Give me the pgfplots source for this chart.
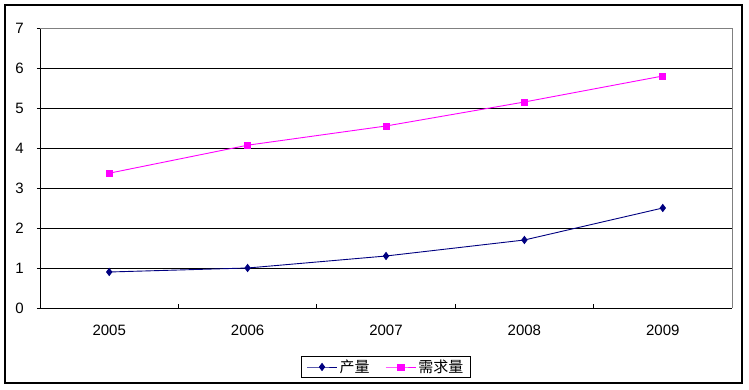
\documentclass[border=0pt]{standalone}
\usepackage{fontspec}
\setmainfont{Liberation Sans}
\newfontfamily\cjk{Noto Sans CJK SC}
\usepackage{pgfplots}
\pgfplotsset{compat=1.18}
\definecolor{navyc}{RGB}{0,0,128}
\definecolor{magc}{RGB}{255,0,255}
\begin{document}
\fontsize{15}{18}\selectfont
\begin{tikzpicture}
\useasboundingbox (-40pt,-82pt) rectangle (709pt,308pt);
\draw[black, line width=1.2pt] (-35pt,-75pt) rectangle (702pt,303pt);
\begin{axis}[
  at={(0pt,0pt)}, anchor=south west,
  scale only axis, width=692pt, height=280pt,
  xmin=-0.5, xmax=4.5, ymin=0, ymax=7,
  axis lines=left, axis line style={-, black, line width=0.9pt},
  xtick={0,1,2,3,4}, xticklabels={2005,2006,2007,2008,2009},
  major x tick style={draw=none},
  minor xtick={0.5,1.5,2.5,3.5}, xtick align=inside,
  minor tick length=4pt, minor x tick style={black, line width=0.9pt},
  ytick={0,1,...,7}, ytick align=outside, major tick length=3pt,
  major y tick style={black, line width=0.9pt},
  ymajorgrids, major grid style={black, line width=0.8pt},
  tick label style={font=\fontsize{15}{18}\selectfont},
  yticklabel style={xshift=-8pt},
  xticklabel style={yshift=-12pt},
  /pgf/number format/assume math mode=true,
  clip=false,
  legend style={at={(0.5,-0.2107)}, anchor=center, legend columns=2,
    draw=black, line width=0.9pt, font=\cjk\fontsize{15}{18}\selectfont,
    /tikz/every even column/.append style={column sep=14pt},
    inner xsep=5pt, inner ysep=1pt},
  legend image code/.code={\draw[mark repeat=2,mark phase=2] plot coordinates {(0pt,0pt)(15pt,0pt)(30pt,0pt)};},
]
\draw[gray, line width=0.9pt] (rel axis cs:0,1) -- (rel axis cs:1,1) -- (rel axis cs:1,0);
\addplot[color=navyc, mark=diamond*, mark size=3.5pt, line width=0.9pt, mark options={solid}] coordinates {(0,0.9)(1,1.0)(2,1.3)(3,1.7)(4,2.5)};
\addlegendentry{产量}
\addplot[color=magc, mark=square*, mark size=3pt, line width=0.9pt] coordinates {(0,3.37)(1,4.07)(2,4.55)(3,5.15)(4,5.8)};
\addlegendentry{需求量}
\end{axis}
\end{tikzpicture}
\end{document}
